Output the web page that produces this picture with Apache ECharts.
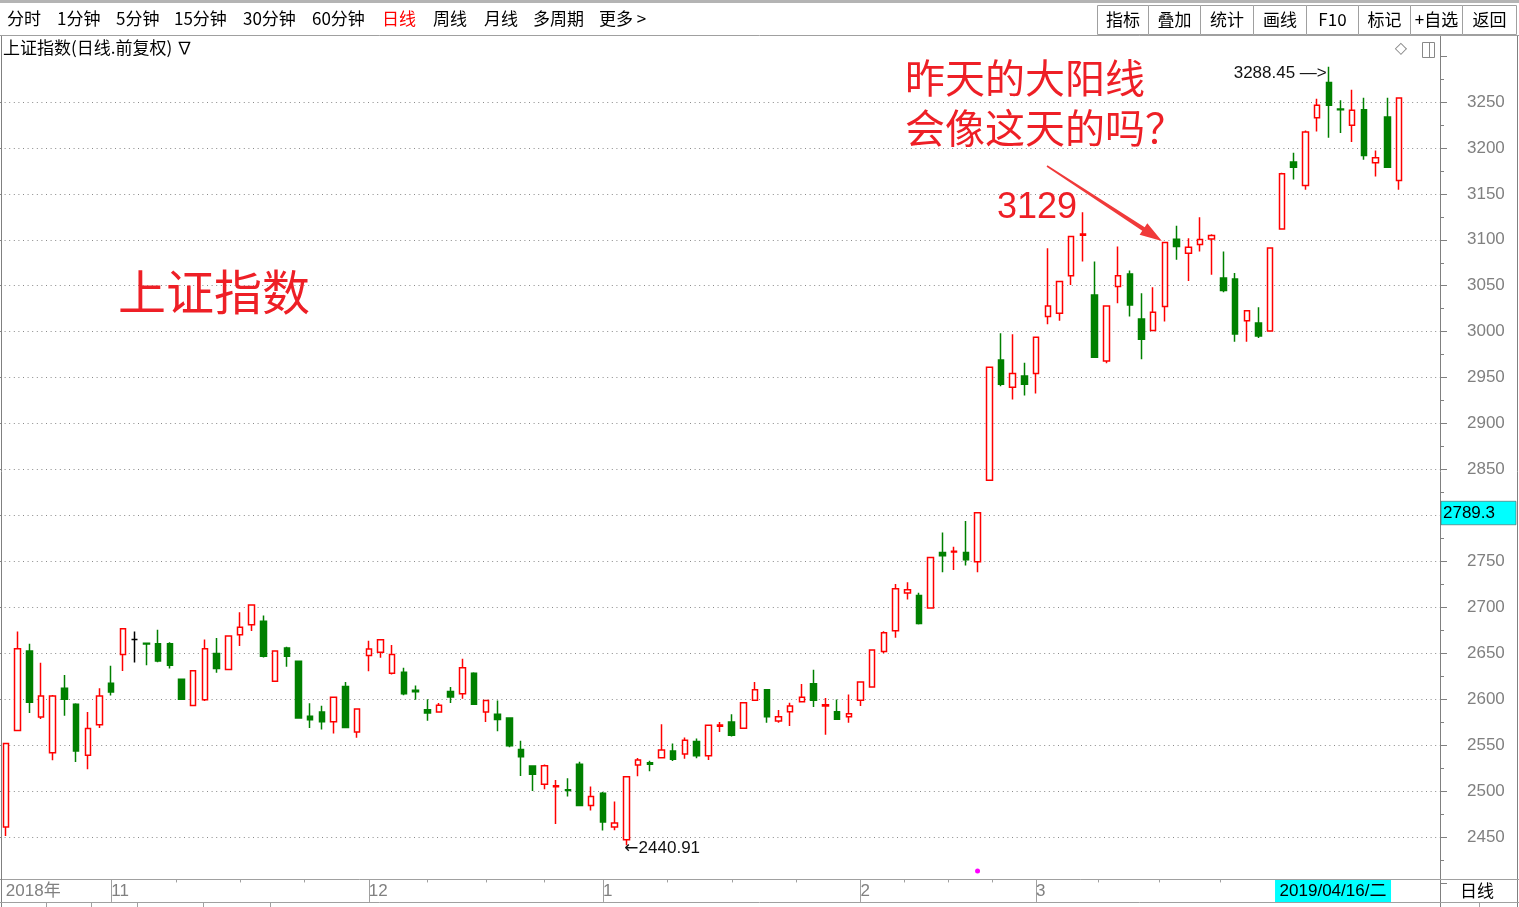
<!DOCTYPE html>
<html>
<head>
<meta charset="utf-8">
<title>上证指数 日线</title>
<script src="https://cdn.jsdelivr.net/npm/echarts@6/dist/echarts.min.js"></script>
<style>
  html, body { margin: 0; padding: 0; background: #fff; }
  #chart { width: 1519px; height: 907px; }
</style>
</head>
<body>
<div id="chart"></div>
<script>
// ---- Daily sessions, 2018-10-19 .. 2019-04-16 ----
const dates = [
  '2018-10-19','2018-10-22','2018-10-23','2018-10-24','2018-10-25','2018-10-26','2018-10-29','2018-10-30','2018-10-31',
  '2018-11-01','2018-11-02','2018-11-05','2018-11-06','2018-11-07','2018-11-08','2018-11-09','2018-11-12','2018-11-13','2018-11-14','2018-11-15',
  '2018-11-16','2018-11-19','2018-11-20','2018-11-21','2018-11-22','2018-11-23','2018-11-26','2018-11-27','2018-11-28','2018-11-29','2018-11-30',
  '2018-12-03','2018-12-04','2018-12-05','2018-12-06','2018-12-07','2018-12-10','2018-12-11','2018-12-12','2018-12-13','2018-12-14',
  '2018-12-17','2018-12-18','2018-12-19','2018-12-20','2018-12-21','2018-12-24','2018-12-25','2018-12-26','2018-12-27','2018-12-28',
  '2019-01-02','2019-01-03','2019-01-04','2019-01-07','2019-01-08','2019-01-09','2019-01-10','2019-01-11','2019-01-14','2019-01-15','2019-01-16',
  '2019-01-17','2019-01-18','2019-01-21','2019-01-22','2019-01-23','2019-01-24','2019-01-25','2019-01-28','2019-01-29','2019-01-30','2019-01-31',
  '2019-02-01','2019-02-11','2019-02-12','2019-02-13','2019-02-14','2019-02-15','2019-02-18','2019-02-19','2019-02-20','2019-02-21','2019-02-22',
  '2019-02-25','2019-02-26','2019-02-27','2019-02-28',
  '2019-03-01','2019-03-04','2019-03-05','2019-03-06','2019-03-07','2019-03-08','2019-03-11','2019-03-12','2019-03-13','2019-03-14','2019-03-15',
  '2019-03-18','2019-03-19','2019-03-20','2019-03-21','2019-03-22','2019-03-25','2019-03-26','2019-03-27','2019-03-28','2019-03-29',
  '2019-04-01','2019-04-02','2019-04-03','2019-04-04','2019-04-08','2019-04-09','2019-04-10','2019-04-11','2019-04-12','2019-04-15','2019-04-16'
];

const opens = [
  2460.8,2566,2652.5,2580.6,2541.7,2611.9,2594.6,2538.9,2572.3,
  2617.3,2648.6,2665.1,2661,2660.4,2660.4,2621.6,2593.2,2599.3,2649.6,2632.4,2670.1,2680.9,2684.9,2619.4,2655.8,2641.4,2581.3,2586,2575.5,2613.7,2564.4,
  2647.5,2651,2628.3,2629.4,2609.6,2588.6,2586.1,2608.5,2606,2628.3,2586.1,2583.6,2579.6,2545.3,2527.3,2507.4,2504.8,2501.3,2529.1,2484.3,
  2497.7,2461,2447.1,2528.3,2530.7,2536.3,2543.5,2540.3,2553.9,2538.4,2570.5,2575.2,2568.4,2598.9,2610.4,2576.3,2586.3,2597.1,2616.9,2592.5,2586.3,2580.9,
  2598.9,2613.3,2651.8,2674.5,2715.5,2712.9,2699.3,2759.7,2760.2,2759.7,2749.6,2838.4,2969.2,2939.4,2951.7,
  2954.6,3016.4,3020,3060.8,3105.1,3040,2968.1,3049.1,3062.9,3013.9,3001.2,3027.3,3100.7,3085.5,3094.8,3101,3058.5,3057.4,3012,3009.4,3000.7,
  3111.9,3184.6,3159.1,3232.9,3271.1,3242.4,3224.6,3241.6,3183.9,3233.6,3164.6
];

const closes = [
  2551.8,2655,2596.8,2603.6,2603.6,2600,2543.5,2568,2603.6,
  2607.9,2676.6,2665.1,2660,2641.7,2637,2600,2631,2655,2633.5,2668.7,2678.4,2702.5,2646.8,2652.5,2646.8,2579.5,2577.7,2575.5,2602.2,2569.1,2589.2,
  2654.7,2664.8,2648.6,2606,2608.1,2585,2593.3,2602.3,2634.1,2594.4,2598.7,2577.8,2549.3,2537.4,2518.2,2527.6,2505.8,2500.5,2484.3,2494.1,
  2466.3,2465.2,2515.7,2533.8,2529.3,2544.6,2534.5,2555.4,2538.4,2571.6,2572,2560.8,2596.1,2610.4,2580.9,2580.9,2592.5,2602.2,2598.9,2593.9,2578.1,2584.2,
  2618.7,2653.6,2672.3,2720.1,2719,2682.4,2754.3,2756.1,2760.9,2751.8,2802.9,2961.2,2942.7,2954.6,2942.7,
  2993.9,3028,3054.6,3103.6,3106.2,2972.1,3028,3060.8,3029.1,2991.7,3021.1,3097.1,3092.7,3092,3100.3,3104.6,3044.7,2997.4,3022.9,2995.2,3091.2,
  3171.9,3179.1,3217.3,3246.4,3246.4,3241.6,3240.9,3191.9,3189.3,3179.1,3254.4
];

const lows = [
  2451,2565.5,2584.9,2578.4,2533.5,2582,2531.7,2523.7,2568.7,
  2604,2630.6,2639.9,2637,2640.3,2633.5,2599.3,2592.2,2598,2628.8,2631.8,2657.9,2674.1,2645.4,2618.9,2635.3,2579,2568.7,2566.9,2562.6,2568.6,2557.9,
  2630.5,2645,2627,2604.2,2599.5,2576.4,2585.2,2595.9,2600.5,2593.8,2575.3,2565.2,2547.8,2516.4,2500.2,2502,2464.2,2494,2483.8,2478.9,
  2457.2,2457.3,2440.91,2516.2,2521.5,2535.8,2532.7,2535.3,2535.6,2533.8,2564.4,2559.4,2567.9,2598.4,2574.4,2574.4,2570.9,2596.6,2591.4,2561.2,2577.6,2574.4,
  2592.5,2612.8,2650,2667,2708.6,2681.3,2698.8,2738.1,2740.6,2745.4,2738.1,2837.9,2940.6,2926.1,2930.6,
  2932.8,3008.1,3012,3050.9,3076.4,2971.5,2965.6,3031,3016.4,2969.9,3000.7,3011,3078.2,3055.3,3087.2,3062.1,3042.9,2989.1,2989.1,2993,3000.2,
  3111.4,3165.7,3154.4,3218,3211.1,3216.2,3206.4,3187.1,3169,3178.6,3154.4
];

const highs = [
  2552.5,2673.7,2660.4,2639.6,2604.6,2626.3,2595.7,2586,2611.9,
  2636.3,2677.5,2673.7,2661.2,2675.5,2662,2622,2631.5,2665.1,2666.5,2669.2,2694.6,2703,2691,2653,2657,2641.9,2595.7,2592.8,2602.7,2618.7,2589.7,
  2663.7,2665.3,2659,2634.1,2615,2599.8,2595.8,2613.2,2643.9,2629.2,2599.2,2598.7,2580.2,2554.7,2527.8,2529,2512.1,2513.9,2532,2504.9,
  2499,2488.6,2516.2,2536,2533,2572.7,2551.8,2558.3,2557.2,2572.1,2575.2,2583.5,2596.6,2618.7,2610.9,2588.2,2596.1,2616.6,2632,2601.4,2599.6,2605.2,
  2619.2,2654.1,2674,2725.5,2727.3,2715.8,2754.8,2781.3,2765.8,2793.9,2803.4,2961.7,2998.2,2997.2,2966.3,
  2994.4,3090.9,3055.1,3104.1,3129.9,3076.4,3028.5,3092.7,3066.6,3041.9,3048.4,3097.6,3115.3,3101.8,3124.6,3106,3087.2,3063.9,3023.4,3026.5,3091.7,
  3173,3194.8,3219.1,3253.6,3288.45,3251.8,3263.4,3254.7,3197.3,3254.7,3254.9
];

// price scale of the right axis
const priceMin = 2400;
const priceMax = 3300;
const priceStep = 50;

// empty slots after the last session
const trailingSlots = ['', '', ''];

// texts of the window chrome and notes
const periodMenu = ['分时', '1分钟', '5分钟', '15分钟', '30分钟', '60分钟', '日线', '周线', '月线', '多周期', '更多 >'];
const activePeriod = '日线';
const toolButtons = ['指标', '叠加', '统计', '画线', 'F10', '标记', '+自选', '返回'];
const titleText = '上证指数(日线.前复权) ∇';
const indexName = '上证指数';
const questionLines = ['昨天的大阳线', '会像这天的吗？'];
const levelNote = '3129';
const cursorPrice = 2789.3;
const cursorDateText = '2019/04/16/二';
const periodTag = '日线';
const arrowTargetIndex = dates.indexOf('2019-03-18');
const dotIndex = dates.indexOf('2019-02-22');

// ---------------------------------------------------------------
const RED = '#ff0000';
const GREEN = '#008000';
const NOTE_RED = '#ee1f26';
const GRAY = '#808080';
const LINE_GRAY = '#a0a0a0';
const NUM_FONT = "'Liberation Sans', Arial, sans-serif";
const CJK_FONT = "'Noto Sans CJK SC', 'Liberation Sans', sans-serif";

const candles = dates.map((d, i) => {
  const v = [opens[i], closes[i], lows[i], highs[i]];
  if (opens[i] === closes[i]) {
    // flat session drawn as a black cross
    return { value: v, itemStyle: { color: '#000', color0: '#000', borderColor: '#000', borderColor0: '#000' } };
  }
  return v;
});

// first session of every month
const monthStart = new Set();
dates.forEach((d, i) => {
  if (i === 0 || d.slice(0, 7) !== dates[i - 1].slice(0, 7)) monthStart.add(i);
});

const chart = echarts.init(document.getElementById('chart'));

chart.setOption({
  animation: false,
  backgroundColor: '#fff',
  grid: { left: 0, right: 79, top: 56.06, bottom: 24.06, containLabel: false },
  xAxis: {
    type: 'category',
    data: dates.concat(trailingSlots),
    boundaryGap: true,
    offset: -3.5,
    axisLine: { show: true, lineStyle: { color: LINE_GRAY, width: 1 } },
    axisTick: {
      show: true,
      alignWithLabel: true,
      length: 22.5,
      interval: (i) => i > 0 && monthStart.has(i),
      lineStyle: { color: LINE_GRAY, width: 1 }
    },
    axisLabel: {
      show: true,
      interval: (i) => monthStart.has(i),
      formatter: (v, i) => (i === 0 ? v.slice(0, 4) + '年' : String(Number(v.slice(5, 7)))),
      align: 'left',
      padding: [0, 0, 0, 0],
      margin: 3,
      color: GRAY,
      fontSize: 17,
      fontFamily: "'Liberation Sans', 'Noto Sans CJK SC', sans-serif"
    },
    splitLine: { show: false }
  },
  yAxis: {
    type: 'value',
    position: 'right',
    min: priceMin,
    max: priceMax,
    interval: priceStep,
    axisLine: { show: false },
    axisTick: { show: true, length: 7, lineStyle: { color: GRAY } },
    minorTick: { show: true, splitNumber: 2, length: 4, lineStyle: { color: GRAY } },
    minorSplitLine: { show: false },
    axisLabel: {
      show: true,
      margin: 27,
      color: GRAY,
      fontSize: 17,
      fontFamily: NUM_FONT,
      formatter: (v) => String(v),
      showMinLabel: false,
      showMaxLabel: false
    },
    splitLine: {
      show: true,
      showMinLine: false,
      showMaxLine: false,
      lineStyle: { color: '#8a8a8a', width: 1, type: [1, 3.6] }
    }
  },
  series: [{
    type: 'candlestick',
    name: indexName,
    data: candles,
    barWidth: 6,
    clip: false,
    silent: true,
    itemStyle: {
      color: '#fff',
      color0: GREEN,
      borderColor: RED,
      borderColor0: GREEN,
      borderWidth: 1.5
    },
    markPoint: {
      symbol: 'circle',
      symbolSize: 0,
      silent: true,
      data: [
        {
          type: 'max', valueDim: 'highest',
          label: {
            show: true, position: 'left', distance: 2, offset: [0, 7],
            formatter: (p) => Number(p.value).toFixed(2) + ' —>',
            color: '#111', fontSize: 17, fontFamily: NUM_FONT
          }
        },
        {
          type: 'min', valueDim: 'lowest',
          label: {
            show: true, position: 'right', distance: 0, offset: [-2, 3],
            formatter: (p) => '{a|←}' + Number(p.value).toFixed(2),
            color: '#111', fontSize: 17, fontFamily: NUM_FONT,
            rich: { a: { fontFamily: "'DejaVu Sans', sans-serif", fontSize: 17, color: '#111' } }
          }
        }
      ]
    }
  }]
});

// ---- window chrome, notes and cursor labels ----
function toPx(i, v) {
  return chart.convertToPixel({ gridIndex: 0 }, [i, v]);
}

const W = 1519, H = 907;
const g = [];
const line = (x1, y1, x2, y2, stroke, lw) =>
  g.push({ type: 'line', z: 100, silent: true, shape: { x1, y1, x2, y2 }, style: { stroke, lineWidth: lw || 1 } });
const text = (x, y, t, opts) =>
  g.push({ type: 'text', z: 101, silent: true, x, y, style: Object.assign({ text: t, fill: '#000', fontSize: 17, fontFamily: CJK_FONT, align: 'left', verticalAlign: 'middle' }, opts || {}) });

// top toolbar
g.push({ type: 'rect', z: 100, silent: true, shape: { x: 0, y: 0, width: W, height: 3 }, style: { fill: '#b4b4b4' } });
line(0, 35.5, W, 35.5, LINE_GRAY);
const menuX = [7, 57, 116, 174, 243, 312, 382, 433, 484, 533, 599];
periodMenu.forEach((t, k) => text(menuX[k], 19, t, { fill: t === activePeriod ? RED : '#000' }));
const btnEdges = [1097, 1148, 1200, 1253, 1306, 1358, 1410, 1462, 1516];
toolButtons.forEach((t, k) => {
  const x0 = btnEdges[k], x1 = btnEdges[k + 1];
  g.push({ type: 'rect', z: 100, silent: true, shape: { x: x0 + 0.5, y: 5.5, width: x1 - x0, height: 29 }, style: { fill: '#fff', stroke: LINE_GRAY, lineWidth: 1 } });
  text((x0 + x1) / 2 + 0.5, 19.5, t, { align: 'center', fontFamily: "'Noto Sans CJK SC', 'Liberation Sans', sans-serif" });
});

// title row
text(3, 48, titleText);
text(1401, 49, '◇', { align: 'center', fill: '#888', fontSize: 16, fontFamily: "'DejaVu Sans', sans-serif" });
g.push({ type: 'rect', z: 100, silent: true, shape: { x: 1422.5, y: 42.5, width: 12, height: 15 }, style: { fill: 'none', stroke: '#888', lineWidth: 1 } });
line(1429.5, 42.5, 1429.5, 57.5, '#888');

// frame lines
line(1.5, 36, 1.5, H, '#808080');
line(1440.5, 36, 1440.5, H, GRAY);
line(1517.5, 36, 1517.5, H, GRAY);
line(1440, 879.5, W, 879.5, LINE_GRAY);
line(0, 902.5, W, 902.5, LINE_GRAY);
text(1477, 891, periodTag, { align: 'center', fontSize: 17 });
[46, 91, 137, 203, 270].forEach((x) => line(x + 0.5, 903, x + 0.5, H, LINE_GRAY));
line(1479.5, 903, 1479.5, H, LINE_GRAY);

// quarter ticks inside each complete month on the date band
const starts = Array.from(monthStart).sort((a, b) => a - b);
const axisY = toPx(0, priceMin)[1] - 3.5;
for (let k = 1; k < starts.length - 1; k++) {
  const xa = toPx(starts[k], priceMin)[0];
  const xb = toPx(starts[k + 1], priceMin)[0];
  for (let q = 1; q <= 3; q++) {
    const x = Math.round(xa + (xb - xa) * q / 4) + 0.5;
    line(x, axisY, x, axisY + 3, LINE_GRAY);
  }
}

// notes
text(118, 292, indexName, { fill: NOTE_RED, fontSize: 48, fontFamily: CJK_FONT });
text(905, 78, questionLines[0], { fill: NOTE_RED, fontSize: 40, fontFamily: CJK_FONT });
text(905, 128, questionLines[1], { fill: NOTE_RED, fontSize: 40, fontFamily: CJK_FONT });
text(997, 208, levelNote, { fill: NOTE_RED, fontSize: 36, fontFamily: NUM_FONT });

// arrow pointing to the big up session
(function () {
  const tip = toPx(arrowTargetIndex, highs[arrowTargetIndex]);
  const P = [tip[0] - 3, tip[1] - 1];
  const T = [1047, 166];
  const dx = P[0] - T[0], dy = P[1] - T[1];
  const len = Math.hypot(dx, dy);
  const ux = dx / len, uy = dy / len;
  const nx = -uy, ny = ux;
  const L = 22, Wd = 7;
  const B = [P[0] - ux * L, P[1] - uy * L];
  const pts = [
    [T[0] + nx * 0.8, T[1] + ny * 0.8],
    [B[0] + nx * 2.2, B[1] + ny * 2.2],
    [B[0] + nx * Wd, B[1] + ny * Wd],
    P,
    [B[0] - nx * Wd, B[1] - ny * Wd],
    [B[0] - nx * 2.2, B[1] - ny * 2.2],
    [T[0] - nx * 0.8, T[1] - ny * 0.8]
  ];
  g.push({ type: 'polygon', z: 101, silent: true, shape: { points: pts }, style: { fill: '#f03a3a' } });
})();

// cursor price tag on the right axis
(function () {
  const yy = toPx(0, cursorPrice)[1];
  g.push({ type: 'rect', z: 102, silent: true, shape: { x: 1441, y: yy - 24, width: 75, height: 23.5 }, style: { fill: '#00ffff', stroke: '#555', lineWidth: 0.6 } });
  text(1443, yy - 12, cursorPrice.toFixed(1), { fontSize: 17, fontFamily: NUM_FONT });
  g[g.length - 1].z = 103;
})();

// cursor date tag on the date band
(function () {
  const xr = toPx(dates.length - 1, priceMin)[0] - 8;
  g.push({ type: 'rect', z: 102, silent: true, shape: { x: xr - 116, y: 880, width: 116, height: 22 }, style: { fill: '#00ffff' } });
  text(xr - 58, 891, cursorDateText, { align: 'center', fontSize: 17, fontFamily: "'Liberation Sans', 'Noto Sans CJK SC', sans-serif" });
  g[g.length - 1].z = 103;
})();

// small marker above the date band
(function () {
  const x = toPx(dotIndex, priceMin)[0];
  g.push({ type: 'circle', z: 101, silent: true, shape: { cx: x, cy: 871, r: 2.5 }, style: { fill: '#ff00ff' } });
})();

chart.setOption({ graphic: { elements: g } });
</script>
</body>
</html>
